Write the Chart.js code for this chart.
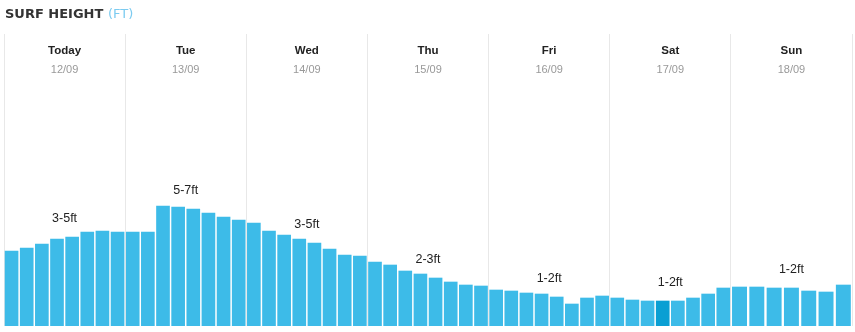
<!DOCTYPE html>
<html>
<head>
<meta charset="utf-8">
<script src="https://cdn.jsdelivr.net/npm/chart.js@4/dist/chart.umd.min.js"></script>
<style>
  html, body { margin: 0; padding: 0; background: #fff; }
  #wrap { position: relative; width: 855px; height: 332px; }
  #title { position: absolute; left: 5px; top: 6px; font: bold 13px "DejaVu Sans", sans-serif; color: #333; letter-spacing: 0; white-space: nowrap; }
  #title span { font-weight: normal; color: #7ccbf0; }
  canvas { position: absolute; left: 0; top: 0; }
</style>
</head>
<body>
<div id="wrap">
  <canvas id="c" width="855" height="332"></canvas>
  <div id="title">SURF HEIGHT <span>(FT)</span></div>
</div>
<script>
// ---- data ----
const days = ['Today', 'Tue', 'Wed', 'Thu', 'Fri', 'Sat', 'Sun'];
const dates = ['12/09', '13/09', '14/09', '15/09', '16/09', '17/09', '18/09'];
const ranges = ['3-5ft', '5-7ft', '3-5ft', '2-3ft', '1-2ft', '1-2ft', '1-2ft'];
const todayH = [3.75, 3.9, 4.1, 4.35, 4.45, 4.7, 4.75, 4.7];
const tueH   = [4.7, 4.7, 6.0, 5.95, 5.85, 5.65, 5.45, 5.3];
const wedH   = [5.15, 4.75, 4.55, 4.35, 4.15, 3.85, 3.55, 3.5];
const thuH   = [3.2, 3.05, 2.75, 2.6, 2.4, 2.2, 2.05, 2.0];
const friH   = [1.8, 1.75, 1.65, 1.6, 1.45, 1.1, 1.4, 1.5];
const satH   = [1.4, 1.3, 1.25, 1.25, 1.25, 1.4, 1.6, 1.9];
const sunH   = [1.95, 1.95, 1.9, 1.9, 1.75, 1.7, 2.05];
const heights = [todayH, tueH, wedH, thuH, friH, satH, sunH];
const highlight = { day: 5, slot: 3 };

// ---- build points: each day spans 8 units on the x axis ----
const SLOTS = 8;
function dayPoints(d) {
  const arr = heights[d];
  const step = SLOTS / arr.length;
  return arr.map((v, j) => ({ x: d * SLOTS + (j + 0.5) * step, y: v }));
}
const mainPts = [], mainColors = [];
for (let d = 0; d < 6; d++) {
  dayPoints(d).forEach((p, j) => {
    mainPts.push(p);
    mainColors.push(d === highlight.day && j === highlight.slot ? '#0a9fd3' : '#3dbbe8');
  });
}
const sunPts = dayPoints(6);

const labelsPlugin = {
  id: 'dayLabels',
  afterDatasetsDraw(chart) {
    const { ctx, scales: { x, y }, chartArea } = chart;
    ctx.save();
    ctx.textAlign = 'center';
    ctx.textBaseline = 'alphabetic';
    for (let d = 0; d < days.length; d++) {
      const cx = x.getPixelForValue(d * SLOTS + SLOTS / 2);
      ctx.fillStyle = '#222';
      ctx.font = 'bold 11.5px "Liberation Sans", Arial, sans-serif';
      ctx.fillText(days[d], cx, chartArea.top + 19.5);
      ctx.fillStyle = '#999';
      ctx.font = '11px "Liberation Sans", Arial, sans-serif';
      ctx.fillText(dates[d], cx, chartArea.top + 38.5);
      const arr = heights[d];
      const mid = arr[Math.floor(arr.length / 2)];
      const ty = y.getPixelForValue(mid) - 18;
      ctx.fillStyle = '#222';
      ctx.font = '12.5px "Liberation Sans", Arial, sans-serif';
      ctx.textBaseline = 'middle';
      ctx.fillText(ranges[d], cx, ty);
      ctx.textBaseline = 'alphabetic';
    }
    ctx.restore();
  }
};

new Chart(document.getElementById('c'), {
  type: 'bar',
  data: {
    datasets: [
      { data: mainPts, backgroundColor: mainColors, barThickness: 13, grouped: false },
      { data: sunPts, backgroundColor: '#3dbbe8', barThickness: 14.3, grouped: false }
    ]
  },
  options: {
    responsive: false,
    animation: false,
    events: [],
    layout: { padding: { left: 4, right: 3, top: 34, bottom: 6 } },
    plugins: { legend: { display: false }, tooltip: { enabled: false } },
    scales: {
      x: {
        type: 'linear', min: 0, max: 56, offset: false,
        ticks: { display: false, stepSize: 8 },
        grid: { color: '#e8e8e8', lineWidth: 1, drawTicks: false, offset: false },
        border: { display: false }
      },
      y: {
        display: false, min: 0, max: 14.6
      }
    }
  },
  plugins: [labelsPlugin]
});
</script>
</body>
</html>
